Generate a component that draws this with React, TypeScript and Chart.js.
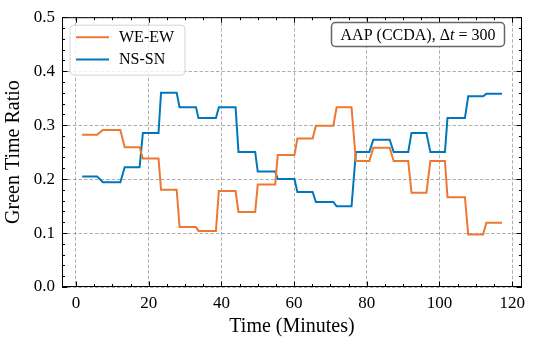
import React, { useEffect, useRef } from "react";
import { Chart, registerables } from "chart.js";

Chart.register(...registerables);

// ---- Data (time in minutes, green time ratio) ----
const stepStart = [1.7, 7.4, 13.4, 18.4, 23.4, 28.5, 33.7, 39.3, 44.7, 50.0, 55.5, 60.9, 66.0, 71.7, 77.0, 81.8, 87.4, 92.3, 97.5, 102.2, 107.9, 112.9];
const stepEnd = [5.8, 12.2, 17.5, 22.7, 27.7, 33.0, 38.5, 43.9, 49.3, 54.8, 60.1, 65.1, 70.8, 75.8, 80.7, 86.3, 91.4, 96.4, 101.5, 107.0, 112.0, 117.2];
const weEw = [0.282, 0.291, 0.259, 0.238, 0.18, 0.111, 0.104, 0.178, 0.139, 0.19, 0.2445, 0.275, 0.299, 0.333, 0.2335, 0.258, 0.2335, 0.1745, 0.2335, 0.1665, 0.0975, 0.119];
const nsSn = [0.205, 0.194, 0.222, 0.2855, 0.36, 0.333, 0.313, 0.333, 0.25, 0.214, 0.2, 0.176, 0.1575, 0.1495, 0.25, 0.273, 0.25, 0.2855, 0.25, 0.313, 0.3535, 0.358];
const seriesNames = ["WE-EW", "NS-SN"];
const seriesColors = ["#EE7733", "#0077BB"];
const xTicks = [0, 20, 40, 60, 80, 100, 120];
const yTicks = [0, 0.1, 0.2, 0.3, 0.4, 0.5];
const xTitle = "Time (Minutes)";
const yTitle = "Green Time Ratio";
const xMinorStep = 5;
const yMinorStep = 0.02;

const FONT = "'Liberation Serif', 'Times New Roman', serif";

function toPoints(values: number[]) {
  const pts: { x: number; y: number }[] = [];
  values.forEach((v, i) => {
    pts.push({ x: stepStart[i], y: v });
    pts.push({ x: stepEnd[i], y: v });
  });
  return pts;
}

function roundRect(ctx: CanvasRenderingContext2D, x: number, y: number, w: number, h: number, r: number) {
  ctx.beginPath();
  ctx.moveTo(x + r, y);
  ctx.lineTo(x + w - r, y);
  ctx.arcTo(x + w, y, x + w, y + r, r);
  ctx.lineTo(x + w, y + h - r);
  ctx.arcTo(x + w, y + h, x + w - r, y + h, r);
  ctx.lineTo(x + r, y + h);
  ctx.arcTo(x, y + h, x, y + h - r, r);
  ctx.lineTo(x, y + r);
  ctx.arcTo(x, y, x + r, y, r);
  ctx.closePath();
}

const framePlugin = {
  id: "sciFrame",
  afterDraw(chart: any) {
    const ctx: CanvasRenderingContext2D = chart.ctx;
    const { left, right, top, bottom } = chart.chartArea;
    const xs = chart.scales.x;
    const ys = chart.scales.y;
    ctx.save();
    // spines
    ctx.strokeStyle = "#000";
    ctx.lineWidth = 1;
    ctx.strokeRect(left + 0.5, top + 0.5, right - left - 1, bottom - top - 1);
    // ticks
    const majorLen = 5.5;
    const minorLen = 3;
    ctx.beginPath();
    const xMin = xs.min, xMax = xs.max;
    for (let v = Math.ceil(xMin / xMinorStep) * xMinorStep; v <= xMax + 1e-9; v += xMinorStep) {
      const isMajor = xTicks.some((t) => Math.abs(t - v) < 1e-6);
      const len = isMajor ? majorLen : minorLen;
      const px = Math.round(xs.getPixelForValue(v)) + 0.5;
      ctx.moveTo(px, bottom);
      ctx.lineTo(px, bottom - len);
      ctx.moveTo(px, top);
      ctx.lineTo(px, top + len);
    }
    for (let k = 0; k * yMinorStep <= ys.max + 1e-9; k++) {
      const v = k * yMinorStep;
      const isMajor = yTicks.some((t) => Math.abs(t - v) < 1e-6);
      const len = isMajor ? majorLen : minorLen;
      const py = Math.round(ys.getPixelForValue(v)) + 0.5;
      ctx.moveTo(left, py);
      ctx.lineTo(left + len, py);
      ctx.moveTo(right, py);
      ctx.lineTo(right - len, py);
    }
    ctx.stroke();

    // legend
    const lx = left + 8, ly = top + 8, lw = 115, lh = 50;
    roundRect(ctx, lx, ly, lw, lh, 4);
    ctx.fillStyle = "rgba(255,255,255,0.8)";
    ctx.fill();
    ctx.strokeStyle = "rgba(204,204,204,0.8)";
    ctx.lineWidth = 1;
    ctx.stroke();
    ctx.font = `16px ${FONT}`;
    ctx.textBaseline = "middle";
    ctx.textAlign = "left";
    seriesNames.forEach((name, i) => {
      const y = ly + 12 + i * 22.4;
      ctx.strokeStyle = seriesColors[i];
      ctx.lineWidth = 2;
      ctx.beginPath();
      ctx.moveTo(lx + 6, y);
      ctx.lineTo(lx + 39, y);
      ctx.stroke();
      ctx.fillStyle = "#000";
      ctx.fillText(name, lx + 49, y + 0.5);
    });

    // annotation box
    const bx = 331.5, by = 22.5, bw = 173, bh = 24;
    roundRect(ctx, bx, by, bw, bh, 4);
    ctx.fillStyle = "rgba(255,255,255,0.9)";
    ctx.fill();
    ctx.strokeStyle = "#666";
    ctx.lineWidth = 1.5;
    ctx.stroke();
    const parts = [
      { t: "AAP (CCDA), ", it: false },
      { t: "\u0394", it: false },
      { t: "t", it: true },
      { t: " = ", it: false },
      { t: "300", it: false },
    ];
    let total = 0;
    const widths = parts.map((p) => {
      ctx.font = `${p.it ? "italic " : ""}16px ${FONT}`;
      const w = ctx.measureText(p.t).width;
      total += w;
      return w;
    });
    let cx = bx + bw / 2 - total / 2;
    ctx.fillStyle = "#000";
    ctx.textBaseline = "middle";
    parts.forEach((p, i) => {
      ctx.font = `${p.it ? "italic " : ""}16px ${FONT}`;
      ctx.fillText(p.t, cx, by + bh / 2 + 1);
      cx += widths[i];
    });
    ctx.restore();
  },
};

export default function App() {
  const ref = useRef<HTMLCanvasElement | null>(null);
  useEffect(() => {
    if (!ref.current) return;
    const chart = new Chart(ref.current, {
      type: "line",
      data: {
        datasets: [
          {
            label: seriesNames[0],
            data: toPoints(weEw),
            borderColor: seriesColors[0],
            backgroundColor: seriesColors[0],
            borderWidth: 2,
            pointRadius: 0,
            tension: 0,
            fill: false,
          },
          {
            label: seriesNames[1],
            data: toPoints(nsSn),
            borderColor: seriesColors[1],
            backgroundColor: seriesColors[1],
            borderWidth: 2,
            pointRadius: 0,
            tension: 0,
            fill: false,
          },
        ],
      },
      options: {
        animation: false,
        responsive: false,
        devicePixelRatio: 1,
        layout: { padding: { top: 13, right: 11, left: 0, bottom: 0 } },
        plugins: { legend: { display: false }, tooltip: { enabled: false } },
        scales: {
          x: {
            type: "linear",
            min: -3.85,
            max: 122.7,
            afterBuildTicks: (s: any) => {
              s.ticks = xTicks.map((v) => ({ value: v }));
            },
            afterFit: (s: any) => {
              s.height = 57;
            },
            grid: { color: "rgba(120,120,120,0.75)", lineWidth: 0.8, drawTicks: false },
            border: { display: false, dash: [3.5, 2] },
            ticks: {
              color: "#000",
              padding: 6,
              maxRotation: 0,
              font: { family: FONT, size: 17 },
              callback: (v: any) => String(v),
            },
            title: {
              display: true,
              text: xTitle,
              color: "#000",
              font: { family: FONT, size: 20 },
              padding: { top: 0, bottom: 5 },
            },
          },
          y: {
            type: "linear",
            min: 0,
            max: 0.5,
            afterBuildTicks: (s: any) => {
              s.ticks = yTicks.map((v) => ({ value: v }));
            },
            afterFit: (s: any) => {
              s.width = 62;
            },
            grid: { color: "rgba(120,120,120,0.75)", lineWidth: 0.8, drawTicks: false },
            border: { display: false, dash: [3.5, 2] },
            ticks: {
              color: "#000",
              padding: 7,
              font: { family: FONT, size: 17 },
              callback: (v: any) => Number(v).toFixed(1),
            },
            title: {
              display: true,
              text: yTitle,
              color: "#000",
              font: { family: FONT, size: 20 },
              padding: { top: 2, bottom: 0 },
            },
          },
        },
      },
      plugins: [framePlugin],
    } as any);
    return () => chart.destroy();
  }, []);
  return (
    <div style={{ position: "fixed", left: 0, top: 0, width: 533, height: 344, background: "#fff" }}>
      <canvas ref={ref} width={533} height={344} style={{ width: 533, height: 344, display: "block" }} />
    </div>
  );
}
